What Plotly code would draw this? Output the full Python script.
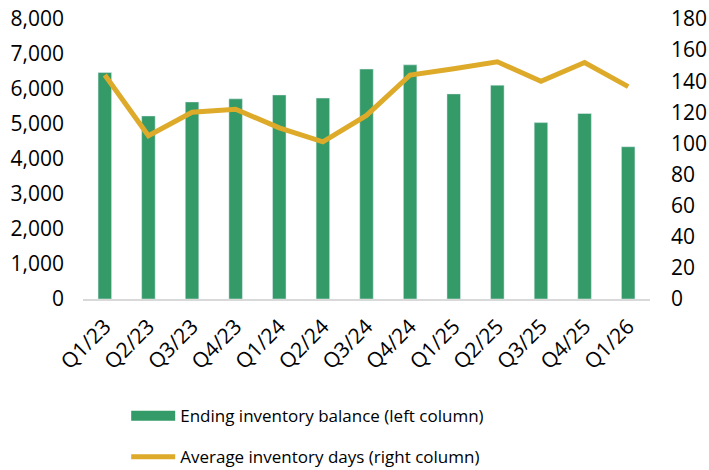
import plotly.graph_objects as go

categories = ["Q1/23", "Q2/23", "Q3/23", "Q4/23", "Q1/24", "Q2/24", "Q3/24",
              "Q4/24", "Q1/25", "Q2/25", "Q3/25", "Q4/25", "Q1/26"]
inventory_balance = [6470, 5230, 5630, 5720, 5830, 5740, 6570, 6690, 5860, 6110, 5040, 5300, 4350]
inventory_days = [144, 105, 120, 122, 110, 101, 118, 144, 148, 152.5, 140, 152, 136.5]

left_ticks = [0, 1000, 2000, 3000, 4000, 5000, 6000, 7000, 8000]
right_ticks = [0, 20, 40, 60, 80, 100, 120, 140, 160, 180]

GREEN = "#349A68"
GOLD = "#DDAA2A"
FONT = "Open Sans"
TICK = 21

fig = go.Figure()
fig.add_trace(go.Bar(
    x=categories, y=inventory_balance, marker_color=GREEN, width=0.31,
    showlegend=False, yaxis="y",
))
fig.add_trace(go.Scatter(
    x=categories, y=inventory_days, mode="lines",
    line=dict(color=GOLD, width=5), showlegend=False, yaxis="y2",
))
# legend entries
fig.add_trace(go.Scatter(
    x=[None], y=[None], mode="lines", line=dict(color=GREEN, width=12),
    name="Ending inventory balance (left column)", legendgroup="a",
))
fig.add_trace(go.Scatter(
    x=[None], y=[None], mode="lines", line=dict(color=GOLD, width=5),
    name="Average inventory days (right column)", legendgroup="b",
))

fig.update_layout(
    width=709, height=470,
    margin=dict(l=83, r=59, t=19, b=171, autoexpand=False),
    plot_bgcolor="white", paper_bgcolor="white",
    font=dict(family=FONT, size=TICK, color="#000000"),
    xaxis=dict(
        type="category", tickangle=-45, showgrid=False,
        showline=True, linecolor="#d9d9d9", linewidth=2,
        ticks="", tickfont=dict(size=TICK), automargin=False,
        ticklabelstandoff=5,
    ),
    yaxis=dict(
        range=[0, 8000], tickvals=left_ticks, tickformat=",",
        showgrid=False, zeroline=False, showline=False, ticks="",
        tickfont=dict(size=TICK), automargin=False, ticklabelstandoff=18,
    ),
    yaxis2=dict(
        range=[0, 180], tickvals=right_ticks, overlaying="y", side="right",
        showgrid=False, zeroline=False, showline=False, ticks="",
        tickfont=dict(size=TICK), automargin=False, ticklabelstandoff=20,
    ),
    legend=dict(
        orientation="v", xref="container", x=0.178, xanchor="left",
        yref="container", y=0.153, yanchor="top",
        font=dict(size=17), tracegroupgap=16, traceorder="grouped",
        itemwidth=44,
    ),
)

fig.write_html("out.html", post_script="document.body.style.margin='0';",
               config={"displayModeBar": False})
